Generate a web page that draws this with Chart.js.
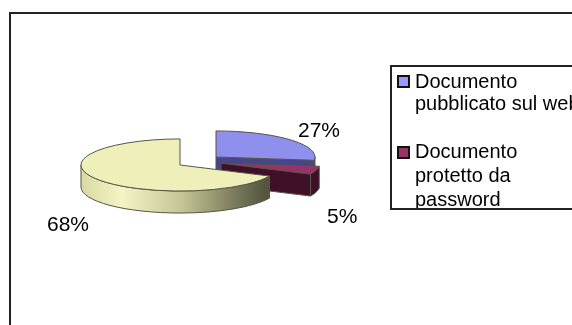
<!DOCTYPE html>
<html>
<head>
<meta charset="utf-8">
<style>
	html, body { margin: 0; padding: 0; background: #fff; overflow: hidden; }
	#wrap { position: relative; width: 572px; height: 325px; }
	#frame { position: absolute; left: 9px; top: 12px; right: -5px; bottom: -5px; border: 2px solid #222; }
	canvas { position: absolute; left: 0; top: 0; }
</style>
</head>
<body>
<div id="wrap">
	<div id="frame"></div>
	<canvas id="chart1" width="572" height="325"></canvas>
</div>
<script src="https://cdn.jsdelivr.net/npm/chart.js@4"></script>
<script>
'use strict';
var categories = ['Documento pubblicato sul web', 'Documento protetto da password', 'Altro'];
var shares = [27, 5, 68];
var shareLabels = ['27%', '5%', '68%'];
var legendEntries = [
	['Documento', 'pubblicato sul web'],
	['Documento', 'protetto da', 'password']
];

var topColors = ['#8f8fee', '#993366', '#efefb9'];
var edgeColors = ['#46468c', '#3f1028', '#e6e6ae'];
var legendColors = ['#9999ff', '#993366'];

var squash = 0.263;
var depth = 22;
var shiftX = [36, 41, 0];
var shiftY = [-8, -2, 0];

// slices are ordinary arcs, flattened with a transform; the walls are added underneath
var pie3d = {
	id: 'pie3d',
	beforeDatasetsDraw: function (chart) {
		var ctx = chart.ctx;
		var arcs = chart.getDatasetMeta(0).data;
		for (var i = 0; i < arcs.length; i++) {
			drawSlice(ctx, arcs[i], i);
		}
		return false;
	},
	afterDraw: function (chart) {
		drawValueLabels(chart.ctx);
		drawLegendBox(chart.ctx);
	}
};

function drawSlice(ctx, arc, i) {
	var a0 = arc.startAngle;
	var a1 = arc.endAngle;
	// the arc offset option also grows thin slices, so they are pulled out by hand
	var cx = arc.x + shiftX[i];
	var cy = arc.y + shiftY[i];
	var r = arc.outerRadius;
	var ry = r * squash;

	ctx.save();
	ctx.strokeStyle = '#55554a';
	ctx.lineWidth = 1;
	ctx.lineJoin = 'round';

	// flat face on the closing side of the slice
	if (Math.cos(a1) > 0.001) {
		var ex = cx + Math.cos(a1) * r;
		var ey = cy + Math.sin(a1) * ry;
		ctx.beginPath();
		ctx.moveTo(cx, cy);
		ctx.lineTo(ex, ey);
		ctx.lineTo(ex, ey + depth);
		ctx.lineTo(cx, cy + depth);
		ctx.closePath();
		ctx.fillStyle = edgeColors[i];
		ctx.fill();
		ctx.stroke();
	}

	// outer wall, only the part facing the front
	var from = Math.max(a0, 0);
	var to = Math.min(a1, Math.PI);
	if (to > from) {
		ctx.beginPath();
		ctx.ellipse(cx, cy, r, ry, 0, from, to);
		ctx.ellipse(cx, cy + depth, r, ry, 0, to, from, true);
		ctx.closePath();
		ctx.fillStyle = wallFill(ctx, cx, r, i);
		ctx.fill();
		ctx.stroke();
	}

	// top face through the arc element itself
	ctx.save();
	ctx.translate(cx, cy);
	ctx.scale(1, squash);
	ctx.translate(-arc.x, -arc.y);
	arc.draw(ctx);
	ctx.restore();

	ctx.beginPath();
	ctx.moveTo(cx, cy);
	ctx.ellipse(cx, cy, r, ry, 0, a0, a1);
	ctx.closePath();
	ctx.stroke();
	ctx.restore();
}

function wallFill(ctx, cx, r, i) {
	if (i !== 2) {
		return edgeColors[i];
	}
	var g = ctx.createLinearGradient(cx - r, 0, cx + r * 0.86, 0);
	g.addColorStop(0, '#d9d9a4');
	g.addColorStop(0.22, '#f4f4c4');
	g.addColorStop(0.55, '#c4c494');
	g.addColorStop(0.85, '#77775a');
	g.addColorStop(1, '#55553f');
	return g;
}

function drawValueLabels(ctx) {
	var spots = [[298, 137], [327, 223], [47, 231]];
	ctx.save();
	ctx.fillStyle = '#000';
	ctx.font = '21px "Liberation Sans"';
	ctx.textBaseline = 'alphabetic';
	for (var i = 0; i < shareLabels.length; i++) {
		ctx.fillText(shareLabels[i], spots[i][0], spots[i][1]);
	}
	ctx.restore();
}

function drawLegendBox(ctx) {
	var baselines = [[88, 110], [158, 182, 206]];
	var swatchTop = [76, 147];
	ctx.save();
	ctx.strokeStyle = '#222';
	ctx.lineWidth = 2;
	ctx.strokeRect(391, 66, 190, 143);
	ctx.beginPath();
	ctx.rect(392, 67, 180, 141);
	ctx.clip();
	ctx.fillStyle = '#000';
	ctx.font = '20px "Liberation Sans"';
	for (var i = 0; i < legendEntries.length; i++) {
		ctx.fillStyle = legendColors[i];
		ctx.fillRect(398, swatchTop[i], 11, 11);
		ctx.strokeStyle = '#111';
		ctx.lineWidth = 2;
		ctx.strokeRect(398, swatchTop[i], 11, 11);
		ctx.fillStyle = '#000';
		for (var j = 0; j < legendEntries[i].length; j++) {
			ctx.fillText(legendEntries[i][j], 415, baselines[i][j]);
		}
	}
	ctx.restore();
}

var ctx = document.getElementById('chart1');
var myChart = new Chart(ctx, {
	type: 'pie',
	data: {
		labels: categories,
		datasets: [{
			data: shares,
			backgroundColor: topColors,
			borderWidth: 0
		}]
	},
	options: {
		responsive: false,
		animation: false,
		radius: 99,
		layout: { padding: { left: 0, right: 212, top: 5, bottom: 0 } },
		plugins: {
			legend: { display: false },
			tooltip: { enabled: false }
		}
	},
	plugins: [pie3d]
});
</script>
</body>
</html>
